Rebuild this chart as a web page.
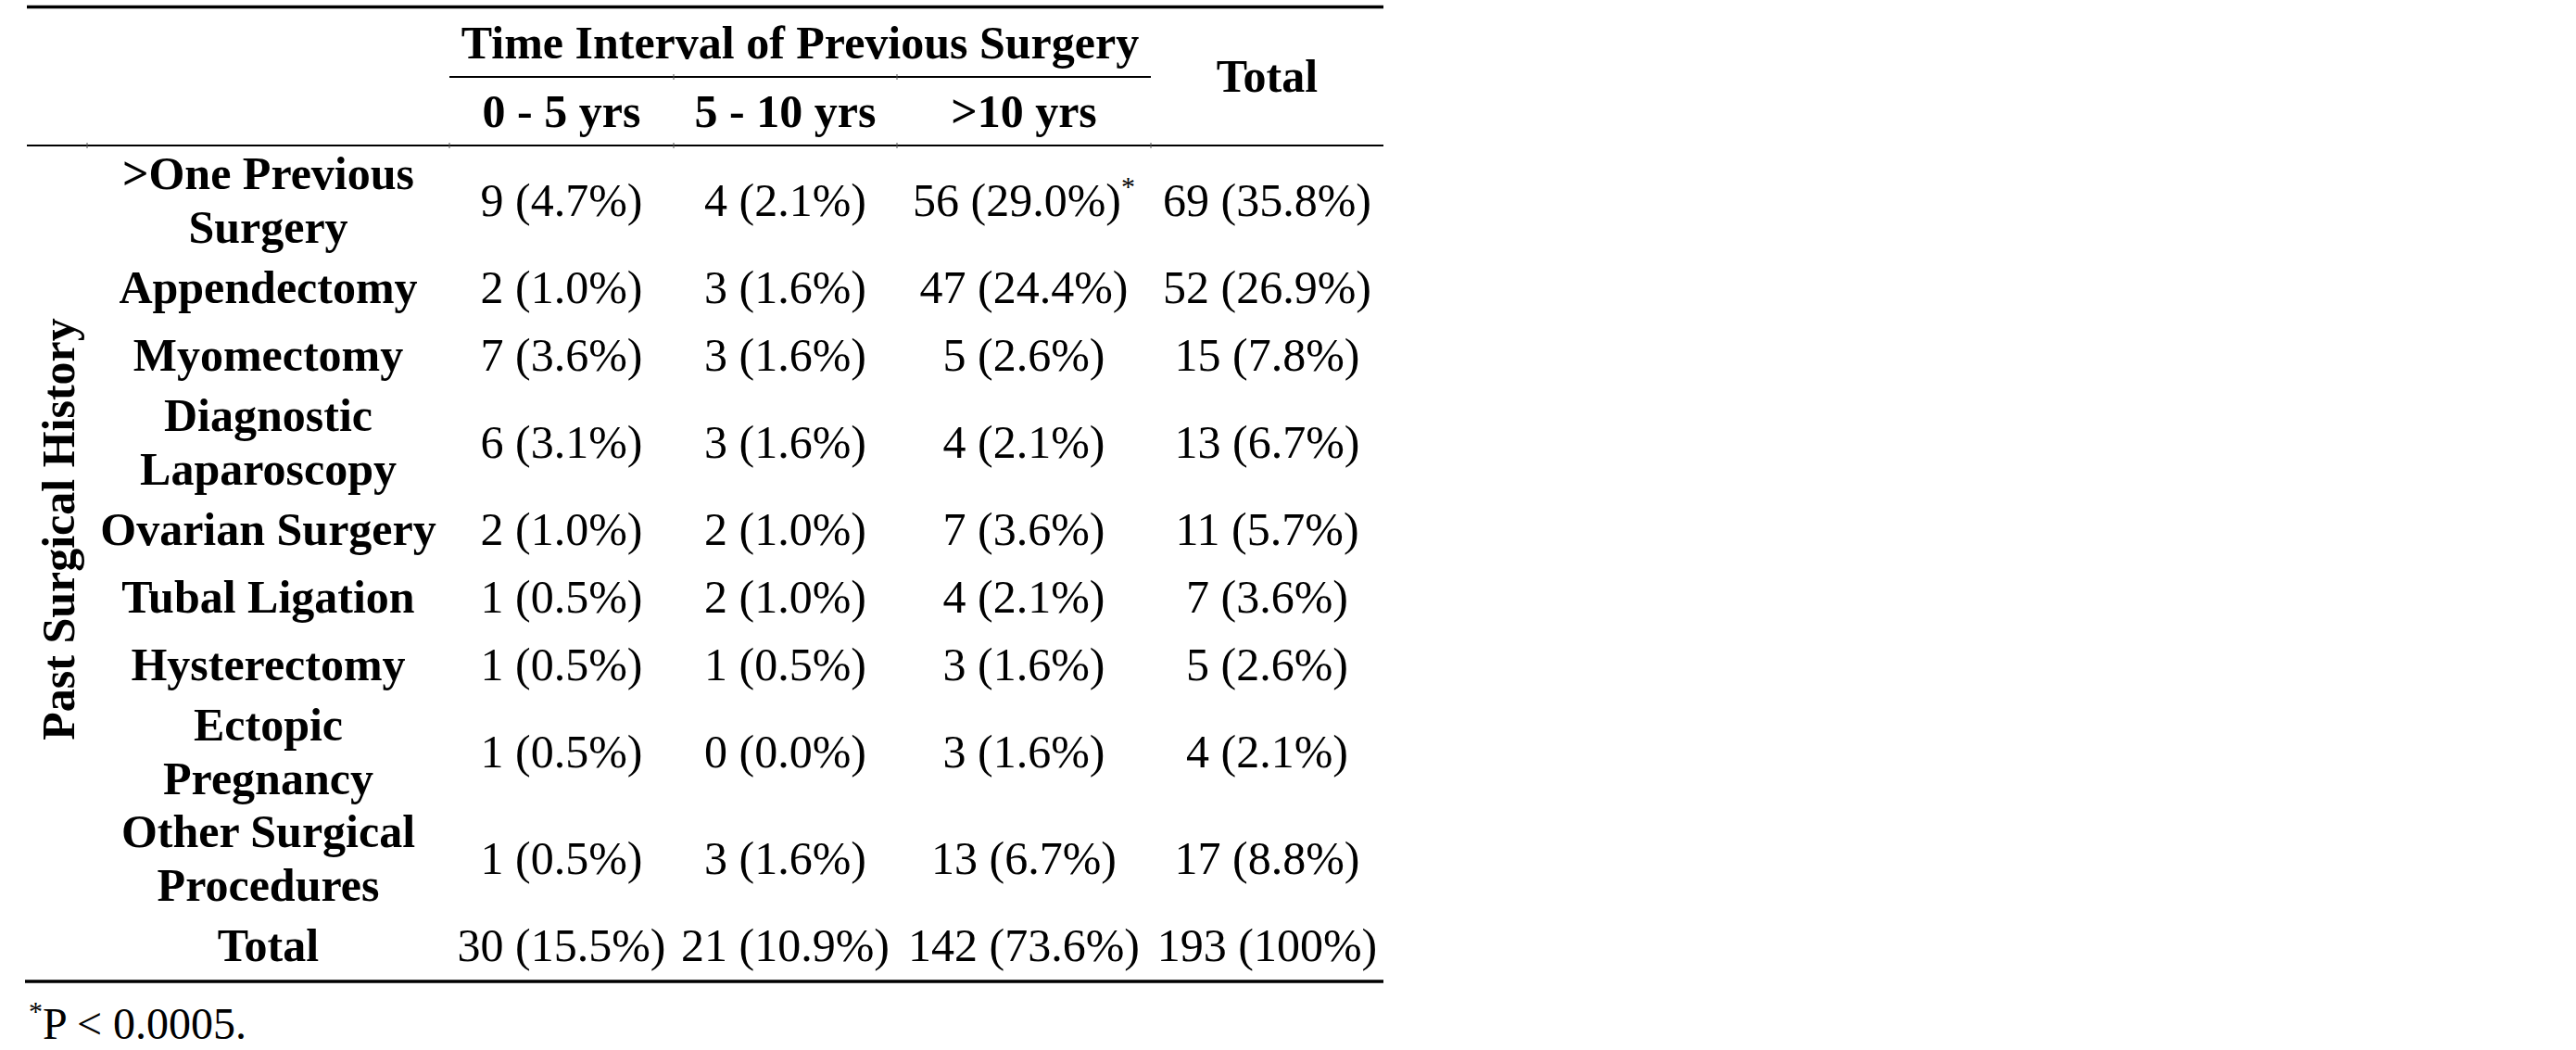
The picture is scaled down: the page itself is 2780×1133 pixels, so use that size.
<!DOCTYPE html>
<html>
<head>
<meta charset="utf-8">
<script src="https://cdn.jsdelivr.net/npm/d3@7"></script>
<style>
  body { margin: 0; background: #fff; }
  text { font-family: "Liberation Serif", "Times New Roman", serif; fill: #000; }
</style>
</head>
<body>
<div id="table"></div>
<script>
// row labels (each entry is the lines of the label cell)
var surgeries = [
  [">One Previous", "Surgery"],
  ["Appendectomy"],
  ["Myomectomy"],
  ["Diagnostic", "Laparoscopy"],
  ["Ovarian Surgery"],
  ["Tubal Ligation"],
  ["Hysterectomy"],
  ["Ectopic", "Pregnancy"],
  ["Other Surgical", "Procedures"],
  ["Total"]
];

var intervals = ["0 - 5 yrs", "5 - 10 yrs", ">10 yrs"];

var counts0to5 = [9, 2, 7, 6, 2, 1, 1, 1, 1, 30];
var pct0to5 = ["4.7", "1.0", "3.6", "3.1", "1.0", "0.5", "0.5", "0.5", "0.5", "15.5"];
var counts5to10 = [4, 3, 3, 3, 2, 2, 1, 0, 3, 21];
var pct5to10 = ["2.1", "1.6", "1.6", "1.6", "1.0", "1.0", "0.5", "0.0", "1.6", "10.9"];
var counts10plus = [56, 47, 5, 4, 7, 4, 3, 3, 13, 142];
var pct10plus = ["29.0", "24.4", "2.6", "2.1", "3.6", "2.1", "1.6", "1.6", "6.7", "73.6"];
var countsTotal = [69, 52, 15, 13, 11, 7, 5, 4, 17, 193];
var pctTotal = ["35.8", "26.9", "7.8", "6.7", "5.7", "3.6", "2.6", "2.1", "8.8", "100"];

// only the >One Previous Surgery / >10 yrs cell is flagged
var flagged = [true, false, false, false, false, false, false, false, false, false];

var width = 2780;
var height = 1133;
var fontSize = 50;

var svg = d3
  .select("#table")
  .append("svg")
  .attr("width", width)
  .attr("height", height);

svg.append("rect").attr("width", width).attr("height", height).attr("fill", "#fff");

// column edges of the table
var colKeys = ["side", "label", "c0", "c1", "c2", "total"];
var colEdges = [29, 94, 485, 727, 968, 1242, 1493];
var colCenter = function (key) {
  var i = colKeys.indexOf(key);
  return (colEdges[i] + colEdges[i + 1]) / 2;
};

// rows: height grows with the number of lines in the label
var bodyTop = 157;
var rowPad = 29.9;
var lineH = 42.8;
var innerLine = 58;
var baseOff = 18.5;

var rows = [];
var cursor = bodyTop;
surgeries.forEach(function (lines) {
  var h = rowPad + lineH * lines.length;
  rows.push({ y0: cursor, h: h, n: lines.length });
  cursor += h;
});
var rowMid = function (i) {
  return rows[i].y0 + rows[i].h / 2 + baseOff;
};
var lineY = function (i, j) {
  return rowMid(i) - ((rows[i].n - 1) * innerLine) / 2 + j * innerLine;
};

// rules
var rule = function (x1, x2, y, w) {
  svg
    .append("line")
    .attr("x1", x1)
    .attr("x2", x2)
    .attr("y1", y)
    .attr("y2", y)
    .attr("stroke", "#000")
    .attr("stroke-width", w);
};
rule(colEdges[0], colEdges[6], 7.5, 3.5);
rule(colEdges[2], colEdges[5], 83, 2);
rule(colEdges[0], colEdges[6], bodyTop, 2);
rule(colEdges[0] - 2, colEdges[6], 1059, 3.5);

// little cell-border stubs left on the rules
var stub = function (x, y) {
  svg
    .append("line")
    .attr("x1", x)
    .attr("x2", x)
    .attr("y1", y - 3)
    .attr("y2", y + 3)
    .attr("stroke", "#555")
    .attr("stroke-width", 1);
};
colEdges.slice(1, 6).forEach(function (x) {
  stub(x, bodyTop);
});
stub(colEdges[3], 83);
stub(colEdges[4], 83);

// header
svg
  .append("text")
  .attr("x", (colEdges[2] + colEdges[5]) / 2)
  .attr("y", 63)
  .attr("text-anchor", "middle")
  .attr("font-weight", "bold")
  .attr("font-size", fontSize)
  .text("Time Interval of Previous Surgery");

svg
  .append("text")
  .attr("x", colCenter("total"))
  .attr("y", 99)
  .attr("text-anchor", "middle")
  .attr("font-weight", "bold")
  .attr("font-size", fontSize)
  .text("Total");

svg
  .selectAll(".sub")
  .data(intervals)
  .enter()
  .append("text")
  .attr("class", "sub")
  .attr("x", function (d, i) {
    return colCenter("c" + i);
  })
  .attr("y", 137)
  .attr("text-anchor", "middle")
  .attr("font-weight", "bold")
  .attr("font-size", fontSize)
  .text(function (d) {
    return d;
  });

// side label
svg
  .append("text")
  .attr("transform", "translate(80,571) rotate(-90)")
  .attr("text-anchor", "middle")
  .attr("font-weight", "bold")
  .attr("font-size", fontSize)
  .text("Past Surgical History");

// row labels
var labels = svg
  .selectAll(".rowlabel")
  .data(surgeries)
  .enter()
  .append("text")
  .attr("class", "rowlabel")
  .attr("text-anchor", "middle")
  .attr("font-weight", "bold")
  .attr("font-size", fontSize);

labels
  .selectAll("tspan")
  .data(function (d, i) {
    return d.map(function (t, j) {
      return { text: t, row: i, line: j };
    });
  })
  .enter()
  .append("tspan")
  .attr("x", colCenter("label"))
  .attr("y", function (d) {
    return lineY(d.row, d.line);
  })
  .text(function (d) {
    return d.text;
  });

// value cells
var columns = [
  { key: "c0", counts: counts0to5, pct: pct0to5 },
  { key: "c1", counts: counts5to10, pct: pct5to10 },
  { key: "c2", counts: counts10plus, pct: pct10plus, flag: true },
  { key: "total", counts: countsTotal, pct: pctTotal }
];

columns.forEach(function (col) {
  var cells = svg
    .selectAll(".cell-" + col.key)
    .data(col.counts)
    .enter()
    .append("text")
    .attr("class", "cell-" + col.key)
    .attr("x", colCenter(col.key))
    .attr("y", function (d, i) {
      return rowMid(i);
    })
    .attr("text-anchor", "middle")
    .attr("font-size", fontSize);

  cells.append("tspan").text(function (d, i) {
    return d + " (" + col.pct[i] + "%)";
  });

  if (col.flag) {
    cells
      .filter(function (d, i) {
        return flagged[i];
      })
      .append("tspan")
      .attr("dy", -22)
      .attr("font-size", 30)
      .text("*");
  }
});

// footnote
var note = svg
  .append("text")
  .attr("x", 31)
  .attr("y", 1121)
  .attr("font-size", 48);
note.append("tspan").attr("dy", -20).attr("font-size", 30).text("*");
note.append("tspan").attr("dy", 20).text("P < 0.0005.");
</script>
</body>
</html>
